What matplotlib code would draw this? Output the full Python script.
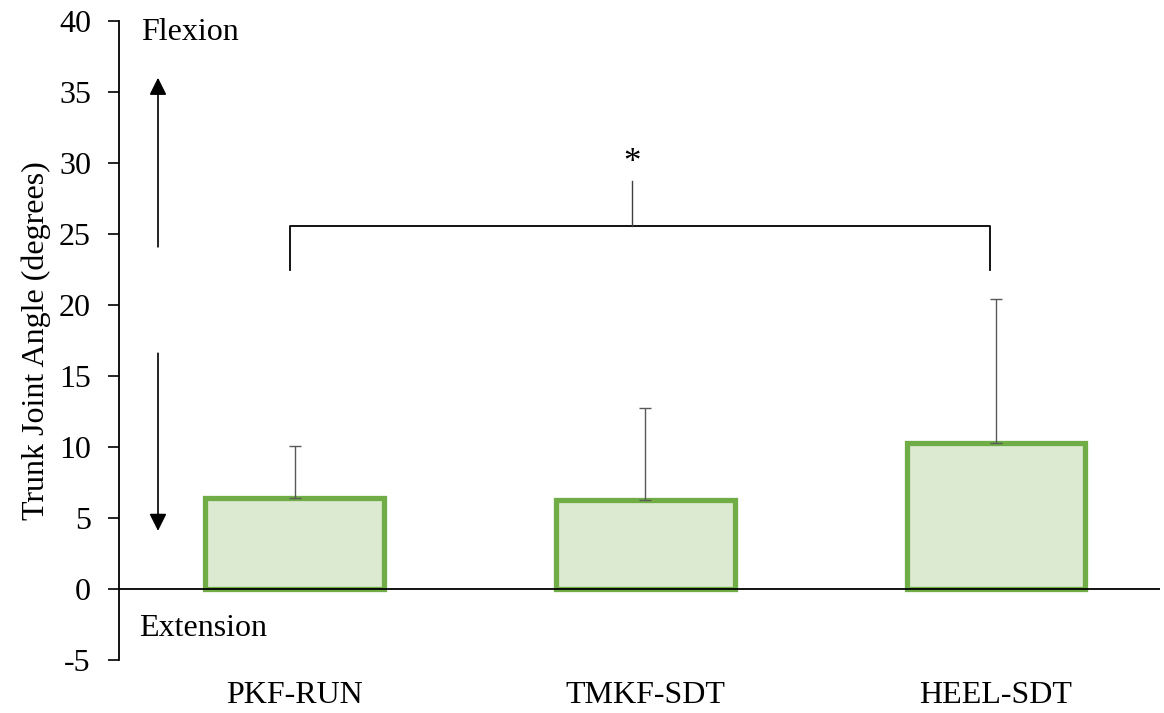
import matplotlib
matplotlib.use("Agg")
import matplotlib.pyplot as plt

categories = ["PKF-RUN", "TMKF-SDT", "HEEL-SDT"]
means = [6.4, 6.3, 10.3]
sds = [3.7, 6.45, 10.1]
yticks = [-5, 0, 5, 10, 15, 20, 25, 30, 35, 40]

plt.rcParams['font.family'] = ['Liberation Serif', 'DejaVu Serif']
FS = 23

fig = plt.figure(figsize=(11.64, 7.13), dpi=100)
ax = fig.add_axes([0.102, 0.0743, 0.8946, 0.8962])

x = list(range(len(categories)))
ax.bar(x, means, width=0.51, color="#DDEAD2", edgecolor="#70AD47", linewidth=3.8, zorder=2)
ax.errorbar(x, means, yerr=[[0]*len(sds), sds], fmt="none", ecolor="#595959",
            elinewidth=1.0, capsize=4, capthick=1.0, zorder=3)

ax.axhline(0, color="black", linewidth=1.3, zorder=4)

ax.set_xlim(-0.502, 2.468)
ax.set_ylim(-5, 40)
ax.set_yticks(yticks)
ax.set_yticklabels([str(t) for t in yticks], fontsize=FS)
ax.set_xticks(x)
ax.set_xticklabels(categories, fontsize=FS)
ax.tick_params(axis='x', length=0, pad=15)
ax.tick_params(axis='y', length=8, width=1.2, direction='out', pad=12)
for s in ["top", "right", "bottom"]:
    ax.spines[s].set_visible(False)
ax.spines["left"].set_linewidth(1.3)
ax.set_ylabel("Trunk Joint Angle (degrees)", fontsize=FS, labelpad=6)

# direction arrows
ax.annotate("", xy=(-0.39, 36.2), xytext=(-0.39, 23.9),
            arrowprops=dict(arrowstyle="-|>", color="black", lw=1.2, mutation_scale=26))
ax.annotate("", xy=(-0.39, 3.9), xytext=(-0.39, 16.8),
            arrowprops=dict(arrowstyle="-|>", color="black", lw=1.2, mutation_scale=26))
ax.text(-0.437, 39.2, "Flexion", fontsize=FS, ha="left", va="center")
ax.text(-0.445, -2.8, "Extension", fontsize=FS, ha="left", va="center")

# significance bracket
ax.plot([-0.014, -0.014, 1.983, 1.983], [22.5, 25.6, 25.6, 22.5], color="black", lw=1.3, zorder=5)
ax.plot([0.962, 0.962], [25.6, 28.7], color="#404040", lw=1.0, zorder=5)
ax.text(0.962, 30.0, "*", fontsize=25, ha="center", va="center")

fig.savefig("out.png", dpi=100)
